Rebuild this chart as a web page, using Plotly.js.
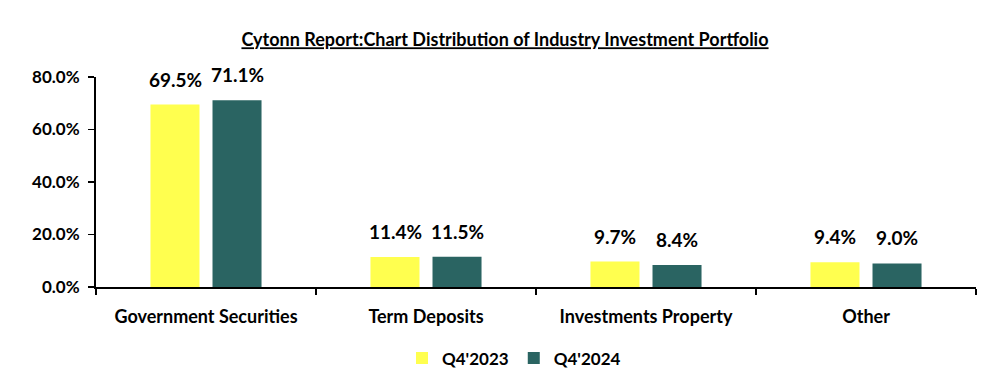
<!DOCTYPE html>
<html><head><meta charset="utf-8">
<script src="https://cdn.plot.ly/plotly-3.0.1.min.js"></script>
<style>html,body{margin:0;padding:0;background:#fff}#chart{width:1000px;height:388px}</style>
</head><body><div id="chart"></div>
<script>
const categories = ["Government Securities", "Term Deposits", "Investments Property", "Other"];
const q4_2023 = [0.695, 0.114, 0.097, 0.094];
const q4_2024 = [0.711, 0.115, 0.084, 0.090];
const seriesNames = ["Q4'2023", "Q4'2024"];
const FONT = "Lato, 'Open Sans', sans-serif";
const traces = [
  {type:'bar', name:seriesNames[0], x:categories, y:q4_2023, marker:{color:'#FFFF4F'}},
  {type:'bar', name:seriesNames[1], x:categories, y:q4_2024, marker:{color:'#2A6462'}}
];
const labelFont = {family:FONT, size:19, color:'#000', weight:'bold'};
const annotations = [];
categories.forEach((c, i) => {
  [[q4_2023, -31], [q4_2024, 31]].forEach(([arr, dx]) => {
    annotations.push({x:c, y:arr[i], xref:'x', yref:'y', text:(arr[i]*100).toFixed(1)+'%',
      showarrow:false, xanchor:'center', yanchor:'bottom', xshift:dx, yshift:12, font:labelFont});
  });
});
const layout = {
  width:1000, height:388,
  margin:{l:96, r:24, t:77, b:98},
  paper_bgcolor:'#fff', plot_bgcolor:'#fff',
  font:{family:FONT, color:'#000', size:16, weight:'bold'},
  title:{text:'<u>Cytonn Report:Chart Distribution of Industry Investment Portfolio</u>',
         x:0.505, xanchor:'center', y:1-40/388, yanchor:'middle', yref:'container', xref:'container',
         font:{family:FONT, size:18, color:'#000', weight:'bold'}},
  barmode:'group', bargap:0.436, bargroupgap:0.21,
  annotations: annotations,
  xaxis:{showline:true, linecolor:'#000', linewidth:2, ticks:'outside', tickson:'boundaries',
         ticklen:6, tickcolor:'#000', tickwidth:1.5, showgrid:false, ticklabelstandoff:12,
         tickfont:{family:FONT, size:18, color:'#000', weight:'bold'}},
  yaxis:{range:[0,0.8], dtick:0.2, tickformat:'.1%', showline:true, linecolor:'#000', linewidth:2,
         ticks:'outside', ticklen:6, tickcolor:'#000', tickwidth:1.5, showgrid:false, zeroline:false,
         ticklabelstandoff:5,
         tickfont:{family:FONT, size:17, color:'#000', weight:'bold'}},
  showlegend:true,
  legend:{orientation:'h', x:0.475, xanchor:'center', y:-0.34, yanchor:'middle',
          font:{family:FONT, size:17, color:'#000', weight:'bold'}, itemwidth:30}
};
Plotly.newPlot('chart', traces, layout, {displayModeBar:false, staticPlot:true});
</script></body></html>
